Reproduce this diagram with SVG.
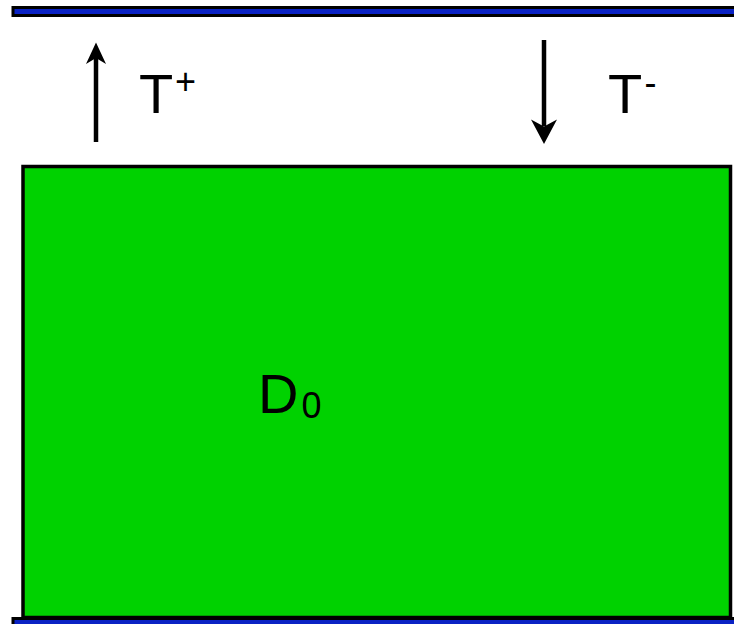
<svg xmlns="http://www.w3.org/2000/svg" width="734" height="624" viewBox="0 0 734 624">
  <style>
    .bar { fill: #0a22c4; stroke: #000; stroke-width: 3; }
    .region { fill: #00d200; stroke: #000; stroke-width: 3.5; }
    .shaft { stroke: #000; stroke-width: 4.5; fill: none; }
    .head { fill: #000; }
    .big { font-family: "Liberation Sans", Arial, sans-serif; font-size: 56px; fill: #000; }
    .small { font-family: "Liberation Sans", Arial, sans-serif; font-size: 36px; fill: #000; }
  </style>

  <!-- boundary plates -->
  <g id="top-plate">
    <rect class="bar" x="13" y="7.5" width="730" height="8"/>
  </g>
  <g id="bottom-plate">
    <rect class="bar" x="13" y="618.5" width="730" height="10"/>
  </g>

  <!-- domain D0 -->
  <g id="domain">
    <rect class="region" x="23" y="166.5" width="707.5" height="451"/>
    <text class="big" x="258" y="413">D</text>
    <text class="small" x="301.5" y="418">0</text>
  </g>

  <!-- flux arrows -->
  <g id="connectors">
    <line class="shaft" x1="96" y1="142" x2="96" y2="58"/>
    <polygon class="head" points="96,42.5 106,64 96,58 86,64"/>
    <line class="shaft" x1="544" y1="40" x2="544" y2="126"/>
    <polygon class="head" points="544,144 557,119.5 544,126.5 531,119.5"/>
  </g>

  <g id="label-t-plus">
    <text class="big" x="139" y="113">T</text>
    <text class="small" x="175" y="94">+</text>
  </g>
  <g id="label-t-minus">
    <text class="big" x="608" y="113">T</text>
    <text class="small" x="644.5" y="95">-</text>
  </g>
</svg>
